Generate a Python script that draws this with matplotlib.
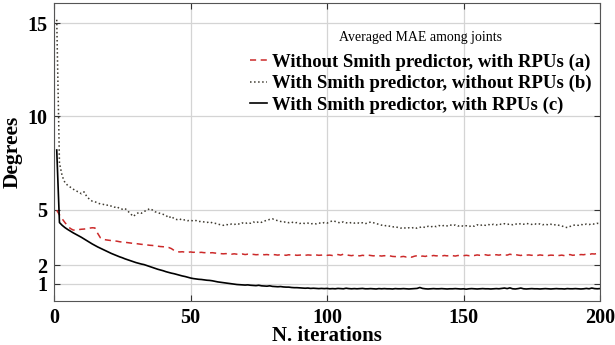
import numpy as np
import matplotlib
matplotlib.use('Agg')
import matplotlib.pyplot as plt

# iteration index
iters = np.arange(1, 201)

# (a) Without Smith predictor, with RPUs
mae_a = [
    4.96, 4.72, 4.50, 4.30, 4.12, 3.98, 3.90, 3.89, 3.92, 3.94,
    3.95, 3.97, 4.00, 4.02, 4.01, 3.72, 3.48, 3.40, 3.37, 3.35,
    3.33, 3.31, 3.30, 3.27, 3.25, 3.24, 3.22, 3.20, 3.18, 3.17,
    3.15, 3.13, 3.12, 3.10, 3.08, 3.07, 3.05, 3.03, 3.01, 3.00,
    2.98, 2.96, 2.90, 2.80, 2.74, 2.72, 2.73, 2.71, 2.70, 2.72,
    2.70, 2.71, 2.69, 2.70, 2.68, 2.69, 2.67, 2.68, 2.66, 2.65,
    2.63, 2.62, 2.63, 2.61, 2.60, 2.62, 2.60, 2.59, 2.61, 2.58,
    2.60, 2.58, 2.59, 2.57, 2.58, 2.60, 2.57, 2.58, 2.56, 2.58,
    2.57, 2.55, 2.58, 2.56, 2.54, 2.57, 2.55, 2.56, 2.54, 2.55,
    2.57, 2.54, 2.56, 2.55, 2.53, 2.56, 2.54, 2.55, 2.57, 2.54,
    2.55, 2.53, 2.56, 2.58, 2.55, 2.60, 2.57, 2.54, 2.52, 2.55,
    2.53, 2.51, 2.54, 2.52, 2.55, 2.53, 2.51, 2.53, 2.52, 2.50,
    2.52, 2.49, 2.51, 2.48, 2.47, 2.50, 2.46, 2.48, 2.45, 2.47,
    2.44, 2.49, 2.52, 2.47, 2.50, 2.48, 2.52, 2.50, 2.53, 2.51,
    2.52, 2.50, 2.53, 2.51, 2.54, 2.52, 2.50, 2.53, 2.51, 2.52,
    2.54, 2.52, 2.55, 2.53, 2.56, 2.54, 2.55, 2.57, 2.54, 2.56,
    2.55, 2.57, 2.55, 2.58, 2.56, 2.55, 2.60, 2.56, 2.58, 2.55,
    2.53, 2.57, 2.55, 2.56, 2.54, 2.55, 2.53, 2.56, 2.54, 2.55,
    2.53, 2.55, 2.54, 2.56, 2.53, 2.55, 2.52, 2.55, 2.58, 2.54,
    2.56, 2.55, 2.58, 2.57, 2.60, 2.58, 2.62, 2.61, 2.64, 2.63,
]

# (b) With Smith predictor, without RPUs
mae_b = [
    15.20, 7.50, 6.80, 6.45, 6.30, 6.20, 6.10, 6.00, 5.95, 5.85,
    5.95, 5.70, 5.55, 5.45, 5.42, 5.35, 5.30, 5.28, 5.22, 5.25,
    5.18, 5.12, 5.16, 5.05, 5.02, 5.06, 4.92, 4.78, 4.63, 4.74,
    4.84, 4.80, 4.90, 4.95, 5.05, 4.98, 4.88, 4.84, 4.78, 4.74,
    4.69, 4.55, 4.64, 4.50, 4.46, 4.50, 4.42, 4.45, 4.40, 4.43,
    4.38, 4.41, 4.35, 4.37, 4.33, 4.30, 4.34, 4.28, 4.26, 4.22,
    4.18, 4.15, 4.20, 4.17, 4.22, 4.19, 4.25, 4.21, 4.28, 4.24,
    4.30, 4.26, 4.33, 4.28, 4.35, 4.31, 4.38, 4.42, 4.47, 4.50,
    4.44, 4.40, 4.36, 4.32, 4.34, 4.29, 4.33, 4.27, 4.30, 4.25,
    4.28, 4.24, 4.27, 4.22, 4.26, 4.23, 4.28, 4.25, 4.30, 4.27,
    4.33, 4.40, 4.36, 4.31, 4.28, 4.34, 4.29, 4.26, 4.31, 4.27,
    4.30, 4.25, 4.29, 4.24, 4.28, 4.33, 4.29, 4.25, 4.20, 4.16,
    4.12, 4.15, 4.10, 4.06, 4.09, 4.03, 4.00, 4.04, 3.98, 4.02,
    4.00, 4.05, 3.99, 4.04, 4.08, 4.03, 4.10, 4.06, 4.12, 4.08,
    4.14, 4.10, 4.16, 4.12, 4.18, 4.13, 4.17, 4.11, 4.15, 4.09,
    4.13, 4.08, 4.14, 4.10, 4.18, 4.13, 4.19, 4.15, 4.20, 4.16,
    4.21, 4.17, 4.23, 4.19, 4.24, 4.20, 4.22, 4.18, 4.23, 4.19,
    4.25, 4.21, 4.26, 4.22, 4.20, 4.24, 4.19, 4.23, 4.18, 4.22,
    4.17, 4.21, 4.16, 4.20, 4.15, 4.12, 4.06, 4.03, 4.09, 4.14,
    4.18, 4.15, 4.20, 4.17, 4.22, 4.19, 4.24, 4.21, 4.26, 4.23,
]

# (c) With Smith predictor, with RPUs
mae_c = [
    8.20, 4.30, 4.15, 4.03, 3.93, 3.84, 3.75, 3.67, 3.59, 3.51,
    3.42, 3.33, 3.24, 3.15, 3.07, 2.99, 2.92, 2.85, 2.78, 2.71,
    2.64, 2.58, 2.52, 2.46, 2.41, 2.35, 2.30, 2.25, 2.20, 2.15,
    2.11, 2.07, 2.04, 1.99, 1.94, 1.89, 1.84, 1.79, 1.75, 1.71,
    1.66, 1.62, 1.58, 1.55, 1.51, 1.47, 1.43, 1.40, 1.36, 1.32,
    1.29, 1.27, 1.25, 1.24, 1.22, 1.20, 1.19, 1.17, 1.14, 1.11,
    1.09, 1.07, 1.05, 1.03, 1.01, 0.99, 0.97, 0.96, 0.95, 0.94,
    0.95, 0.93, 0.92, 0.91, 0.93, 0.90, 0.89, 0.88, 0.90, 0.87,
    0.86, 0.85, 0.86, 0.84, 0.83, 0.83, 0.81, 0.80, 0.80, 0.79,
    0.78, 0.77, 0.78, 0.76, 0.77, 0.76, 0.75, 0.76, 0.75, 0.76,
    0.74, 0.75, 0.74, 0.76, 0.75, 0.74, 0.77, 0.75, 0.74, 0.75,
    0.74, 0.75, 0.76, 0.74, 0.74, 0.75, 0.74, 0.73, 0.75, 0.74,
    0.75, 0.74, 0.74, 0.73, 0.75, 0.74, 0.74, 0.75, 0.74, 0.73,
    0.74, 0.75, 0.76, 0.81, 0.76, 0.74, 0.73, 0.74, 0.75, 0.74,
    0.74, 0.75, 0.74, 0.73, 0.74, 0.74, 0.75, 0.74, 0.73, 0.74,
    0.72, 0.74, 0.75, 0.74, 0.73, 0.74, 0.75, 0.74, 0.74, 0.73,
    0.74, 0.75, 0.74, 0.76, 0.78, 0.75, 0.79, 0.74, 0.73, 0.75,
    0.78, 0.74, 0.73, 0.74, 0.75, 0.74, 0.74, 0.73, 0.74, 0.75,
    0.74, 0.73, 0.74, 0.75, 0.74, 0.74, 0.73, 0.75, 0.74, 0.74,
    0.75, 0.74, 0.73, 0.74, 0.76, 0.74, 0.78, 0.75, 0.74, 0.75,
]

labels = ['Without Smith predictor, with RPUs (a)',
          'With Smith predictor, without RPUs (b)',
          'With Smith predictor, with RPUs (c)']
legend_title = 'Averaged MAE among joints'
xticks = [0, 50, 100, 150, 200]
yticks = [1, 2, 5, 10, 15]

plt.rcParams['font.family'] = ['Liberation Serif', 'DejaVu Serif']
plt.rcParams['font.weight'] = 'bold'

fig = plt.figure(figsize=(6.15, 3.45), dpi=100)
ax = fig.add_axes([54 / 615, 1 - 300.7 / 345, 546 / 615, 297.7 / 345])

ax.plot(iters, mae_a, '--', color='#cc2a2a', lw=1.1, dashes=(4, 3), label=labels[0])
ax.plot(iters, mae_b, ':', color='#3e3a30', lw=1.1, label=labels[1])
ax.plot(iters, mae_c, '-', color='black', lw=1.2, label=labels[2])

ax.set_xlim(0, 200)
ax.set_ylim(0.1, 16.1)
ax.set_xticks(xticks)
ax.set_yticks(yticks)
ax.grid(True, color='#d4d4d4', lw=0.9)
ax.set_axisbelow(True)
ax.tick_params(direction='in', top=True, right=True, length=4, width=0.8,
               labelsize=14.5, colors='#333333', labelcolor='black', pad=5)
for lab in ax.get_xticklabels() + ax.get_yticklabels():
    lab.set_fontweight('bold')
for sp in ax.spines.values():
    sp.set_color('#555555')
    sp.set_linewidth(0.8)

ax.set_xlabel('N. iterations', fontsize=15, fontweight='bold', labelpad=-1)
ax.set_ylabel('Degrees', fontsize=15.5, fontweight='bold')
ax.yaxis.set_label_coords(-0.058, 0.5)

leg = ax.legend(loc='upper right', bbox_to_anchor=(592 / 615, 1 - 31 / 345),
                bbox_transform=fig.transFigure, frameon=False,
                fontsize=13.5, handlelength=0.9, handletextpad=0.3,
                labelspacing=0.22, borderpad=0, borderaxespad=0,
                title=legend_title,
                title_fontproperties={'size': 10, 'weight': 'normal'})
leg._legend_box.sep = 7

fig.savefig('out.png', dpi=100)
